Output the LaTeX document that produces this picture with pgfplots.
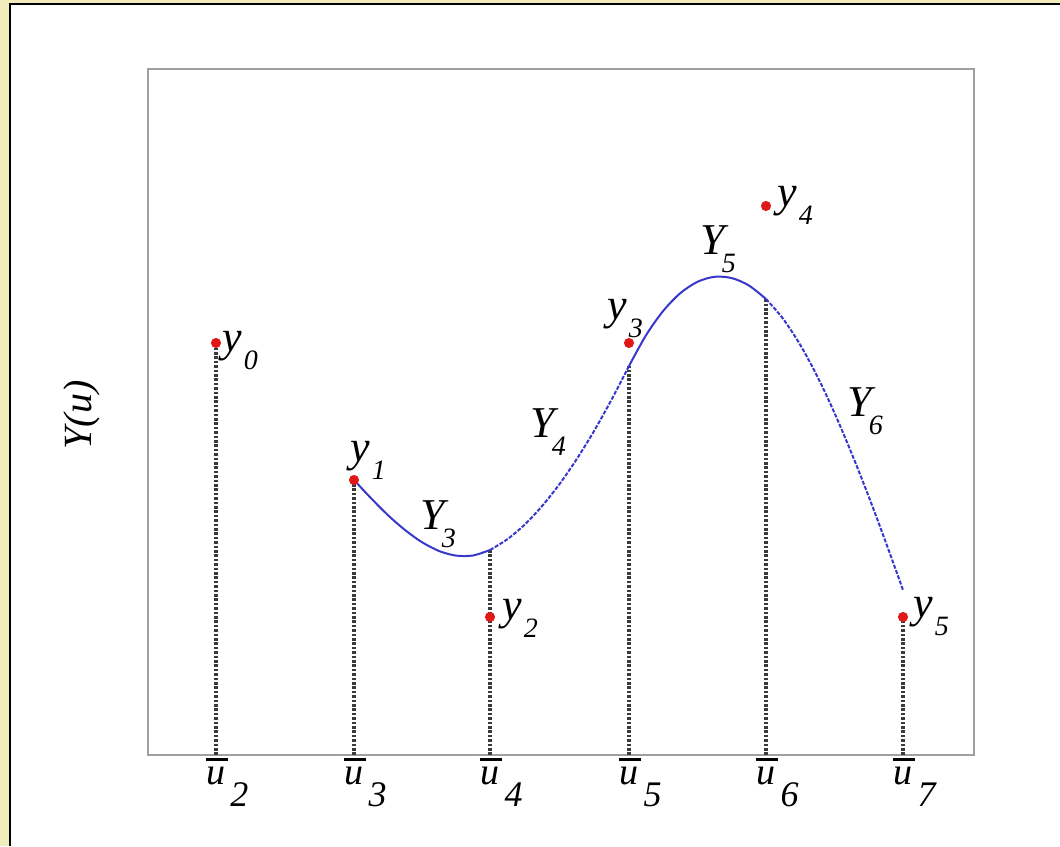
\documentclass[border=0pt]{standalone}
\usepackage{fontspec}
\setmainfont{Liberation Serif}
\usepackage{pgfplots}
\pgfplotsset{compat=1.18}

\definecolor{paper}{HTML}{F2ECBC}
\definecolor{curve}{HTML}{3838CC}
\definecolor{frame}{HTML}{A0A0A0}
\definecolor{guide}{HTML}{3A3A3A}
\definecolor{dot}{HTML}{E01818}

% label with a lowered subscript: #1 base, #2 subscript, #3 kern between them
\newcommand\lab[3]{{\fontsize{22}{22}\selectfont\itshape #1}\kern#3\raisebox{-9pt}{\fontsize{14}{14}\selectfont\itshape #2}}
% knot label: u with an overbar and a lowered index
\newcommand\ulab[1]{\makebox[0pt][l]{\hspace{-0.4pt}\raisebox{11.5pt}{\rule{11pt}{1.5pt}}}u\rlap{\kern2.5pt\raisebox{-11pt}{\fontsize{18}{18}\selectfont\itshape #1}}}

\begin{document}
\begin{tikzpicture}
\useasboundingbox (-74pt,-45.5pt) rectangle (456pt,377.5pt);
\fill[paper] (-74pt,-45.5pt) rectangle (456pt,377.5pt);
\fill[white] (-69pt,-45.5pt) rectangle (456pt,375.25pt);
\draw[black, line width=1pt] (-69pt,-45.5pt) -- (-69pt,375.25pt) -- (456pt,375.25pt);

\begin{axis}[
  at={(0,0)}, anchor=south west,
  scale only axis, width=413pt, height=343pt,
  xmin=148, xmax=974, ymin=0, ymax=686,
  axis line style={frame, line width=1.3pt},
  ytick=\empty,
  xtick={216,354,490,629,766,903},
  xticklabels={\ulab{2},\ulab{3},\ulab{4},\ulab{5},\ulab{6},\ulab{7}},
  xticklabel style={font=\fontsize{19}{19}\selectfont\itshape, anchor=north, inner sep=0pt, yshift=-1.5pt},
  major tick length=0pt,
  clip=false,
]
% guide lines from the knots
\pgfplotsset{guideline/.style={draw=guide, line width=1.6pt, dash pattern=on 1.3pt off 0.9pt}}
\addplot[guideline] coordinates {(216,0) (216,412)};
\addplot[guideline] coordinates {(354,0) (354,275)};
\addplot[guideline] coordinates {(490,0) (490,205)};
\addplot[guideline] coordinates {(629,0) (629,389)};
\addplot[guideline] coordinates {(766,0) (766,456)};
\addplot[guideline] coordinates {(903,0) (903,138)};

% spline pieces Y3 .. Y6
\addplot[curve, line width=1pt, smooth] coordinates {
  (354,275) (371,256.8) (388,239.8) (405,225.0) (422,212.8) (439,204.0)
  (456,199.4) (473,199.5) (490,205)};
\addplot[curve, line width=1pt, smooth, dash pattern=on 2pt off 0.8pt] coordinates {
  (490,205) (507.4,215.8) (524.8,230.5) (542.1,249.0) (559.5,270.9)
  (576.9,296.2) (594.3,324.4) (611.6,355.5) (629,389)};
\addplot[curve, line width=1pt, smooth] coordinates {
  (629,389) (646.1,419.9) (663.3,444.2) (680.4,461.9) (697.5,473.2)
  (714.6,478.2) (731.8,476.9) (748.9,469.5) (766,456)};
\addplot[curve, line width=1pt, smooth, dash pattern=on 2pt off 0.8pt] coordinates {
  (766,456) (783.1,436.2) (800.3,410.0) (817.4,378.4) (834.5,342.0)
  (851.6,301.7) (868.8,258.2) (885.9,212.4) (903,165)};

% data points
\addplot[only marks, mark=*, mark size=2.3pt, dot, mark options={draw=dot, fill=dot}] coordinates {
  (216,412) (354,275) (490,138) (629,412) (766,549) (903,138)};

% labels
\node[anchor=base west, inner sep=0pt] at (axis cs:222,403) {\lab{y}{0}{1pt}};
\node[anchor=base west, inner sep=0pt] at (axis cs:350,293) {\lab{y}{1}{1pt}};
\node[anchor=base west, inner sep=0pt] at (axis cs:502,135) {\lab{y}{2}{1pt}};
\node[anchor=base west, inner sep=0pt] at (axis cs:607,435) {\lab{y}{3}{1pt}};
\node[anchor=base west, inner sep=0pt] at (axis cs:777,548) {\lab{y}{4}{1pt}};
\node[anchor=base west, inner sep=0pt] at (axis cs:913,137) {\lab{y}{5}{1pt}};
\node[anchor=base west, inner sep=0pt] at (axis cs:420,225) {\lab{Y}{3}{-1.5pt}};
\node[anchor=base west, inner sep=0pt] at (axis cs:530,317) {\lab{Y}{4}{-1.5pt}};
\node[anchor=base west, inner sep=0pt] at (axis cs:700,500) {\lab{Y}{5}{-1.5pt}};
\node[anchor=base west, inner sep=0pt] at (axis cs:847,338) {\lab{Y}{6}{-1.5pt}};
\end{axis}

\node[rotate=90, inner sep=0pt, font=\fontsize{20}{20}\selectfont\itshape] at (-33pt,170pt) {Y(u)};
\end{tikzpicture}
\end{document}
